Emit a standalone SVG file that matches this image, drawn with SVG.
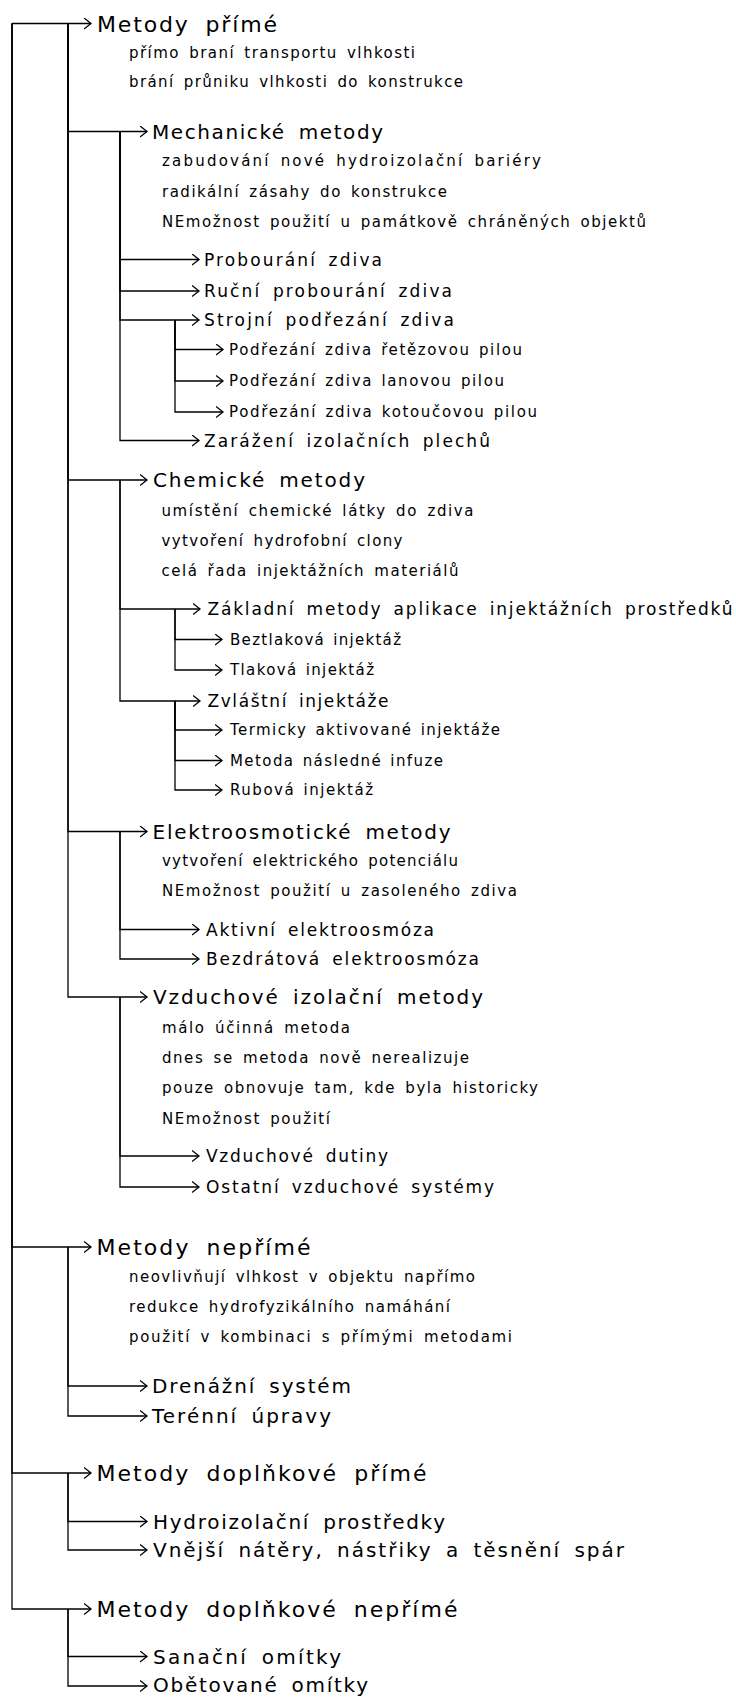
<svg xmlns="http://www.w3.org/2000/svg" width="736" height="1700" viewBox="0 0 736 1700">
<style>
text{font-family:"DejaVu Sans","Liberation Sans",sans-serif;fill:#000}
.l1{font-size:22px;word-spacing:7px}
.l2{font-size:20px;word-spacing:5px}
.l3{font-size:17px;word-spacing:4px}
.l4{font-size:15px;word-spacing:2px}
.n{font-size:15px;word-spacing:3px}
.c path{fill:none;stroke:#000;stroke-width:1.3;marker-end:url(#ah)}
</style>
<defs>
<marker id="ah" markerUnits="userSpaceOnUse" markerWidth="10" markerHeight="14" refX="7.5" refY="6" orient="auto">
<path d="M0.5,0.5 L7.5,6 L0.5,11.5" fill="none" stroke="#000" stroke-width="1.3"/>
</marker>
</defs>
<rect width="736" height="1700" fill="#fff"/>
<g id="connectors" class="c">
<path d="M12,23.5 H91"/>
<path d="M12,23.5 V1247 H91"/>
<path d="M12,23.5 V1473 H91"/>
<path d="M12,23.5 V1609 H91"/>
<path d="M68,23.5 V131.5 H147"/>
<path d="M68,23.5 V480 H147"/>
<path d="M68,23.5 V831.5 H147"/>
<path d="M68,23.5 V997 H147"/>
<path d="M120,131.5 V259.5 H199"/>
<path d="M120,131.5 V291 H199"/>
<path d="M120,131.5 V320 H199"/>
<path d="M120,131.5 V440.5 H199"/>
<path d="M175,320 V349.5 H223"/>
<path d="M175,320 V381 H223"/>
<path d="M175,320 V412 H223"/>
<path d="M120,480 V609 H200"/>
<path d="M120,480 V701 H200"/>
<path d="M175,609 V639.5 H222"/>
<path d="M175,609 V670 H222"/>
<path d="M175,701 V730 H222"/>
<path d="M175,701 V760.5 H222"/>
<path d="M175,701 V790 H222"/>
<path d="M120,831.5 V929.5 H199"/>
<path d="M120,831.5 V959 H199"/>
<path d="M120,997 V1156 H199"/>
<path d="M120,997 V1187 H199"/>
<path d="M68,1247 V1386 H147"/>
<path d="M68,1247 V1416 H147"/>
<path d="M68,1473 V1521.5 H147"/>
<path d="M68,1473 V1550 H147"/>
<path d="M68,1609 V1656.5 H147"/>
<path d="M68,1609 V1686 H147"/>
</g>
<g id="metody-prime">
<text class="l1" x="97" y="31.5" textLength="180" lengthAdjust="spacing">Metody přímé</text>
<text class="n" x="129" y="57.5" textLength="286" lengthAdjust="spacing">přímo braní transportu vlhkosti</text>
<text class="n" x="129" y="87" textLength="334" lengthAdjust="spacing">brání průniku vlhkosti do konstrukce</text>
</g>
<g id="mechanicke">
<text class="l2" x="152" y="138.5" textLength="231" lengthAdjust="spacing">Mechanické metody</text>
<text class="n" x="162" y="166" textLength="379" lengthAdjust="spacing">zabudování nové hydroizolační bariéry</text>
<text class="n" x="162" y="196.5" textLength="285" lengthAdjust="spacing">radikální zásahy do konstrukce</text>
<text class="n" x="162" y="227" textLength="484" lengthAdjust="spacing">NEmožnost použití u památkově chráněných objektů</text>
</g>
<g id="probourani"><text class="l3" x="204" y="265.5" textLength="178" lengthAdjust="spacing">Probourání zdiva</text></g>
<g id="rucni"><text class="l3" x="204" y="297" textLength="248" lengthAdjust="spacing">Ruční probourání zdiva</text></g>
<g id="strojni"><text class="l3" x="204" y="326" textLength="250" lengthAdjust="spacing">Strojní podřezání zdiva</text></g>
<g id="retezovou"><text class="l4" x="229" y="354.5" textLength="293" lengthAdjust="spacing">Podřezání zdiva řetězovou pilou</text></g>
<g id="lanovou"><text class="l4" x="229" y="386" textLength="275" lengthAdjust="spacing">Podřezání zdiva lanovou pilou</text></g>
<g id="kotoucovou"><text class="l4" x="229" y="417" textLength="308" lengthAdjust="spacing">Podřezání zdiva kotoučovou pilou</text></g>
<g id="zarazeni"><text class="l3" x="204" y="446.5" textLength="286" lengthAdjust="spacing">Zarážení izolačních plechů</text></g>
<g id="chemicke">
<text class="l2" x="153" y="487" textLength="212" lengthAdjust="spacing">Chemické metody</text>
<text class="n" x="161.5" y="516" textLength="312" lengthAdjust="spacing">umístění chemické látky do zdiva</text>
<text class="n" x="161.5" y="546" textLength="241" lengthAdjust="spacing">vytvoření hydrofobní clony</text>
<text class="n" x="161.5" y="576" textLength="297" lengthAdjust="spacing">celá řada injektážních materiálů</text>
</g>
<g id="zakladni"><text class="l3" x="207.5" y="615" textLength="525" lengthAdjust="spacing">Základní metody aplikace injektážních prostředků</text></g>
<g id="beztlakova"><text class="l4" x="230" y="644.5" textLength="171" lengthAdjust="spacing">Beztlaková injektáž</text></g>
<g id="tlakova"><text class="l4" x="230" y="675" textLength="144" lengthAdjust="spacing">Tlaková injektáž</text></g>
<g id="zvlastni"><text class="l3" x="207.5" y="707" textLength="181" lengthAdjust="spacing">Zvláštní injektáže</text></g>
<g id="termicky"><text class="l4" x="230" y="735" textLength="270" lengthAdjust="spacing">Termicky aktivované injektáže</text></g>
<g id="nasledne"><text class="l4" x="230" y="765.5" textLength="213" lengthAdjust="spacing">Metoda následné infuze</text></g>
<g id="rubova"><text class="l4" x="230" y="795" textLength="143" lengthAdjust="spacing">Rubová injektáž</text></g>
<g id="elektroosmoticke">
<text class="l2" x="152.5" y="838.5" textLength="298" lengthAdjust="spacing">Elektroosmotické metody</text>
<text class="n" x="162" y="866" textLength="296" lengthAdjust="spacing">vytvoření elektrického potenciálu</text>
<text class="n" x="162" y="896" textLength="355" lengthAdjust="spacing">NEmožnost použití u zasoleného zdiva</text>
</g>
<g id="aktivni"><text class="l3" x="206" y="935.5" textLength="228" lengthAdjust="spacing">Aktivní elektroosmóza</text></g>
<g id="bezdratova"><text class="l3" x="206" y="965" textLength="273" lengthAdjust="spacing">Bezdrátová elektroosmóza</text></g>
<g id="vzduchove">
<text class="l2" x="153" y="1004" textLength="330" lengthAdjust="spacing">Vzduchové izolační metody</text>
<text class="n" x="162" y="1033" textLength="188" lengthAdjust="spacing">málo účinná metoda</text>
<text class="n" x="162" y="1063" textLength="307" lengthAdjust="spacing">dnes se metoda nově nerealizuje</text>
<text class="n" x="162" y="1093" textLength="376" lengthAdjust="spacing">pouze obnovuje tam, kde byla historicky</text>
<text class="n" x="162" y="1124" textLength="168" lengthAdjust="spacing">NEmožnost použití</text>
</g>
<g id="dutiny"><text class="l3" x="206" y="1162" textLength="182" lengthAdjust="spacing">Vzduchové dutiny</text></g>
<g id="ostatni"><text class="l3" x="206" y="1193" textLength="288" lengthAdjust="spacing">Ostatní vzduchové systémy</text></g>
<g id="metody-neprime">
<text class="l1" x="96.5" y="1255" textLength="214" lengthAdjust="spacing">Metody nepřímé</text>
<text class="n" x="129" y="1281.5" textLength="346" lengthAdjust="spacing">neovlivňují vlhkost v objektu napřímo</text>
<text class="n" x="129" y="1311.5" textLength="321" lengthAdjust="spacing">redukce hydrofyzikálního namáhání</text>
<text class="n" x="129" y="1342" textLength="383" lengthAdjust="spacing">použití v kombinaci s přímými metodami</text>
</g>
<g id="drenazni"><text class="l2" x="152" y="1393" textLength="199" lengthAdjust="spacing">Drenážní systém</text></g>
<g id="terenni"><text class="l2" x="152" y="1423" textLength="179" lengthAdjust="spacing">Terénní úpravy</text></g>
<g id="doplnkove-prime"><text class="l1" x="96.5" y="1481" textLength="330" lengthAdjust="spacing">Metody doplňkové přímé</text></g>
<g id="hydroizolacni"><text class="l2" x="153" y="1528.5" textLength="292" lengthAdjust="spacing">Hydroizolační prostředky</text></g>
<g id="vnejsi"><text class="l2" x="153" y="1557" textLength="471" lengthAdjust="spacing">Vnější nátěry, nástřiky a těsnění spár</text></g>
<g id="doplnkove-neprime"><text class="l1" x="96.5" y="1617" textLength="361" lengthAdjust="spacing">Metody doplňkové nepřímé</text></g>
<g id="sanacni"><text class="l2" x="153" y="1663.5" textLength="188" lengthAdjust="spacing">Sanační omítky</text></g>
<g id="obetovane"><text class="l2" x="153" y="1692" textLength="215" lengthAdjust="spacing">Obětované omítky</text></g>
</svg>
